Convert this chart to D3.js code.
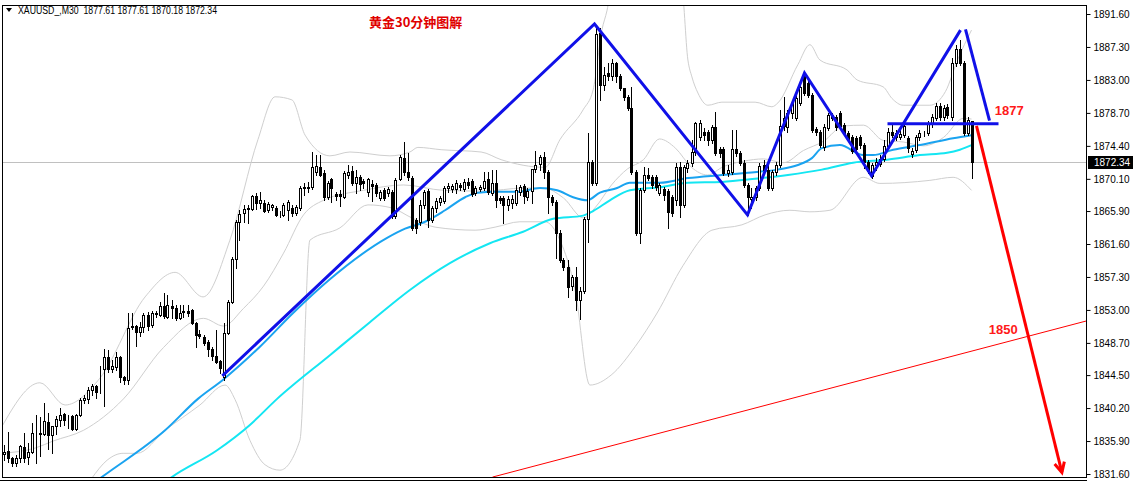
<!DOCTYPE html>
<html><head><meta charset="utf-8">
<script src="https://cdn.jsdelivr.net/npm/d3@7"></script>
<style>body{margin:0;background:#fff;overflow:hidden}svg{display:block}</style>
</head><body><svg id="c" width="1134" height="481"></svg>
<script>
const openP=[1834.2,1834.6,1833.7,1833.1,1833.7,1835.1,1833.8,1834.5,1837.0,1837.0,
1836.8,1838.4,1836.7,1837.8,1838.6,1839.4,1839.0,1839.2,1837.5,1839.3,
1841.3,1841.4,1842.6,1843.1,1842.2,1845.3,1846.9,1845.3,1845.6,1846.9,
1844.3,1843.9,1850.9,1850.9,1850.1,1850.8,1852.4,1851.0,1852.5,1852.4,
1853.5,1852.1,1853.5,1853.3,1852.0,1852.7,1852.8,1853.0,1851.3,1849.9,
1849.5,1848.8,1847.9,1847.0,1846.4,1844.3,1850.0,1854.1,1859.6,1864.5,
1865.7,1866.2,1866.2,1867.9,1867.0,1867.0,1866.0,1866.4,1866.3,1865.5,
1865.4,1866.0,1866.3,1865.7,1866.3,1868.9,1868.9,1869.0,1871.0,1871.6,
1870.9,1867.7,1870.1,1868.1,1868.1,1867.7,1870.6,1871.1,1869.6,1870.3,
1869.8,1868.4,1869.4,1869.3,1867.6,1868.7,1868.3,1868.4,1865.3,1870.1,
1872.8,1871.0,1870.2,1864.7,1864.5,1866.7,1868.5,1864.7,1866.3,1867.1,
1867.2,1868.9,1868.8,1868.8,1869.3,1868.8,1869.7,1869.8,1868.3,1868.8,
1868.9,1870.1,1868.3,1869.6,1867.6,1867.6,1866.7,1867.0,1867.0,1868.4,
1869.2,1867.7,1868.5,1871.4,1872.0,1872.9,1871.0,1867.7,1867.1,1863.0,
1859.5,1858.6,1856.1,1857.3,1854.3,1855.5,1864.9,1872.3,1869.6,1889.1,
1882.3,1883.9,1883.5,1885.2,1883.5,1881.9,1880.8,1879.3,1871.0,1863.0,
1868.6,1870.6,1870.3,1870.3,1868.3,1868.8,1868.5,1867.7,1867.3,1871.6,
1866.7,1871.5,1872.2,1873.6,1875.6,1876.2,1876.2,1875.2,1876.9,1874.0,
1874.0,1870.9,1871.0,1874.0,1873.5,1872.2,1869.3,1867.5,1867.7,1868.9,
1871.9,1871.3,1868.9,1871.0,1871.9,1877.0,1876.9,1878.7,1878.0,1880.0,
1883.6,1882.6,1881.0,1876.6,1876.2,1874.3,1876.7,1878.4,1878.2,1878.7,
1877.1,1876.1,1875.6,1875.4,1875.6,1874.5,1872.3,1870.5,1871.9,1872.0,
1872.7,1874.4,1876.2,1876.1,1875.6,1875.8,1875.4,1873.3,1873.9,1875.6,
1876.1,1876.1,1877.3,1878.0,1879.6,1878.2,1879.5,1878.2,1885.2,1887.0,
1885.2,1876.1,1877.61];
const highP=[1835.4,1837.1,1833.8,1834.1,1835.4,1836.9,1835.6,1838.3,1839.3,1839.0,
1840.9,1839.6,1837.9,1839.2,1840.2,1839.6,1839.3,1839.3,1839.4,1841.5,
1841.9,1843.0,1843.4,1843.2,1845.7,1847.9,1847.8,1846.5,1847.5,1847.0,
1844.4,1852.6,1852.6,1851.0,1851.4,1852.6,1852.7,1852.9,1852.9,1854.0,
1855.2,1855.0,1854.3,1853.7,1853.7,1853.7,1853.7,1853.1,1851.4,1850.4,
1849.7,1849.1,1848.2,1850.4,1846.5,1851.3,1854.3,1859.9,1864.7,1866.0,
1866.7,1866.7,1868.0,1868.3,1868.4,1867.4,1867.1,1866.8,1866.6,1865.9,
1867.0,1867.4,1866.7,1866.7,1869.2,1869.6,1869.7,1873.6,1873.2,1873.2,
1871.3,1869.8,1870.2,1868.4,1868.6,1871.1,1871.9,1871.8,1871.3,1870.6,
1870.1,1870.2,1869.9,1869.6,1868.7,1868.9,1869.0,1868.7,1870.2,1873.2,
1874.9,1873.5,1870.5,1865.0,1867.3,1868.7,1868.8,1866.6,1867.6,1867.9,
1869.2,1869.6,1869.4,1870.0,1869.6,1870.1,1870.2,1870.1,1869.2,1869.3,
1871.0,1871.0,1871.3,1871.3,1867.9,1867.9,1867.9,1868.0,1869.3,1869.3,
1869.4,1868.9,1871.4,1873.7,1873.2,1873.6,1871.3,1868.0,1867.3,1863.4,
1859.8,1859.5,1857.6,1858.6,1856.0,1865.1,1876.1,1872.6,1889.9,1889.8,
1884.7,1885.2,1885.7,1885.3,1883.8,1882.0,1881.0,1882.1,1871.3,1868.9,
1871.6,1871.5,1870.6,1870.6,1869.6,1869.0,1868.8,1868.0,1872.2,1872.3,
1871.9,1872.6,1875.2,1877.5,1877.8,1876.7,1876.5,1877.1,1878.8,1874.3,
1874.3,1871.9,1876.5,1876.5,1873.7,1872.6,1869.6,1868.9,1869.2,1872.2,
1872.6,1871.9,1871.3,1872.3,1879.1,1880.8,1879.1,1880.1,1881.0,1882.6,
1884.0,1883.0,1881.3,1876.9,1876.5,1877.2,1878.7,1878.7,1878.4,1879.0,
1877.4,1876.3,1875.8,1875.7,1875.8,1874.8,1872.6,1872.2,1872.8,1873.2,
1875.2,1876.7,1877.1,1876.5,1876.7,1877.5,1875.7,1874.1,1875.8,1876.5,
1876.3,1877.7,1878.6,1880.0,1880.0,1879.7,1879.9,1885.9,1887.6,1888.2,
1885.5,1878.2,1877.61];
const lowP=[1833.4,1833.2,1832.7,1832.7,1833.2,1833.2,1832.9,1834.4,1833.0,1834.0,
1836.7,1834.8,1834.4,1836.8,1837.8,1838.0,1837.6,1837.4,1837.4,1839.2,
1840.9,1840.9,1841.9,1841.5,1842.1,1840.5,1844.9,1844.9,1845.2,1843.6,
1843.4,1843.4,1850.5,1848.3,1849.6,1850.1,1850.4,1850.8,1852.1,1852.2,
1851.9,1851.9,1851.9,1851.7,1851.8,1852.1,1852.2,1851.2,1848.2,1849.4,
1848.4,1847.0,1846.5,1846.1,1844.8,1843.9,1849.9,1853.9,1858.5,1862.1,
1864.5,1864.3,1866.0,1866.2,1866.3,1865.8,1865.8,1866.0,1865.2,1865.1,
1865.3,1864.7,1865.3,1865.4,1866.0,1868.0,1868.4,1868.8,1870.6,1870.5,
1867.3,1867.5,1867.1,1867.3,1866.6,1867.6,1870.2,1869.3,1868.3,1868.6,
1868.9,1867.9,1867.2,1867.9,1867.3,1867.3,1867.9,1865.0,1865.0,1869.9,
1870.6,1869.9,1863.4,1863.0,1864.1,1866.3,1863.8,1864.5,1865.8,1866.7,
1866.9,1868.4,1868.4,1868.3,1868.6,1868.5,1868.9,1867.9,1868.0,1868.5,
1868.6,1868.1,1868.0,1866.4,1866.9,1864.3,1866.0,1866.3,1866.7,1868.0,
1866.9,1867.3,1866.9,1871.0,1871.3,1870.2,1865.7,1866.7,1859.8,1859.3,
1858.2,1854.7,1855.6,1853.0,1851.8,1855.2,1861.8,1869.3,1869.3,1880.4,
1881.7,1883.0,1883.0,1882.7,1881.7,1880.4,1879.1,1870.7,1862.8,1861.7,
1868.4,1869.9,1868.9,1868.6,1868.0,1867.3,1863.7,1865.3,1866.7,1865.1,
1866.4,1871.0,1871.8,1873.2,1875.2,1875.2,1874.5,1874.8,1873.2,1873.0,
1870.6,1870.5,1870.7,1873.1,1871.9,1869.0,1865.4,1866.3,1867.3,1868.6,
1871.0,1868.6,1868.6,1870.6,1871.7,1876.5,1876.2,1878.0,1877.8,1879.7,
1881.0,1880.8,1876.2,1875.8,1874.3,1873.9,1876.5,1877.8,1876.5,1876.7,
1875.8,1875.0,1873.5,1873.7,1874.1,1871.5,1870.9,1870.2,1871.3,1871.8,
1872.4,1874.1,1875.6,1875.2,1875.3,1875.6,1873.6,1872.9,1873.6,1875.2,
1875.7,1875.8,1876.9,1877.8,1877.8,1877.8,1878.0,1877.8,1884.8,1884.9,
1875.8,1875.8,1870.18];
const closeP=[1834.5,1833.7,1833.1,1833.7,1835.3,1833.7,1834.5,1837.0,1837.0,1836.8,
1838.5,1836.7,1837.8,1838.8,1839.3,1838.6,1839.1,1837.5,1839.3,1841.3,
1841.5,1842.6,1843.1,1842.3,1842.2,1846.9,1845.3,1845.7,1846.9,1844.3,
1843.9,1850.7,1850.8,1850.1,1850.8,1852.4,1850.9,1852.6,1852.6,1853.5,
1852.2,1853.7,1853.3,1852.0,1852.6,1852.8,1852.6,1851.3,1849.7,1849.6,
1848.7,1847.9,1847.0,1846.2,1845.4,1850.0,1854.1,1859.6,1864.5,1865.5,
1866.2,1866.3,1867.9,1867.0,1867.4,1865.9,1866.8,1866.7,1865.4,1865.5,
1866.7,1867.1,1865.7,1866.4,1868.9,1869.0,1869.0,1871.6,1871.8,1870.6,
1867.7,1869.6,1868.9,1867.9,1867.9,1870.9,1871.0,1869.6,1870.3,1869.4,
1869.6,1870.1,1869.2,1868.3,1868.4,1867.6,1868.8,1865.3,1869.9,1872.9,
1871.0,1870.3,1863.7,1863.7,1866.7,1868.4,1864.7,1866.3,1867.2,1867.6,
1868.9,1869.2,1869.2,1869.6,1869.0,1869.7,1869.3,1868.1,1868.9,1869.0,
1869.8,1868.4,1869.6,1867.3,1867.3,1866.7,1867.5,1867.5,1868.6,1869.0,
1867.9,1868.5,1871.4,1871.9,1872.9,1871.0,1867.7,1867.1,1863.0,1859.5,
1858.6,1856.0,1857.3,1854.3,1855.5,1864.9,1872.3,1869.6,1889.0,1882.3,
1883.6,1883.5,1885.2,1883.5,1881.9,1880.8,1879.3,1871.0,1863.0,1868.6,
1870.6,1870.2,1869.3,1869.0,1869.3,1868.0,1865.8,1865.7,1871.6,1866.7,
1871.6,1872.2,1873.6,1877.4,1877.4,1875.8,1875.2,1876.9,1873.5,1873.5,
1870.9,1871.3,1874.0,1873.5,1872.2,1869.3,1867.7,1867.7,1868.9,1871.8,
1871.3,1868.9,1871.0,1871.9,1877.0,1878.0,1878.7,1880.0,1880.7,1882.1,
1881.3,1881.0,1876.5,1876.2,1874.5,1876.9,1878.4,1878.0,1876.9,1877.0,
1876.1,1875.3,1873.7,1874.0,1874.5,1872.3,1871.1,1871.9,1872.3,1872.7,
1874.4,1876.2,1875.8,1875.6,1875.9,1877.0,1874.1,1873.7,1875.6,1876.1,
1876.1,1877.3,1878.2,1879.6,1878.2,1879.3,1878.4,1885.2,1887.0,1885.2,
1876.1,1877.8,1872.34];

// moving averages [bar index, price]
const maFast=[[23.5,1830.8],[25.9,1831.7],[40.4,1837.3],[48.6,1841.4],[54.9,1843.9],[64.1,1848.2],[72.4,1852.6],[81.6,1857.0],[95.9,1862.4],[100.4,1863.6],[105.4,1864.5],[110.4,1866.0],[115.4,1867.7],[118.6,1868.3],[122.9,1868.4],[128.4,1868.4],[134.1,1868.9],[138.4,1868.6],[142.4,1867.7],[145.9,1867.3],[149.1,1868.3],[153.4,1868.9],[156.6,1869.6],[164.1,1869.6],[171.1,1870.2],[179.6,1870.6],[186.1,1870.9],[193.6,1871.3],[198.6,1871.9],[202.1,1872.8],[204.6,1874.1],[209.1,1874.5],[214.9,1873.2],[217.4,1873.2],[222.4,1873.9],[229.1,1874.5],[237.4,1875.4],[242,1875.8]];
const maSlow=[[40.5,1830.6],[42.1,1831.2],[53.4,1834.7],[61.6,1838.0],[68.4,1841.4],[81.6,1847.1],[91.6,1851.4],[101.6,1855.6],[111.6,1859.1],[121.6,1861.7],[129.9,1863.2],[137.4,1864.9],[144.9,1865.3],[147.4,1865.9],[151.6,1867.3],[156.6,1868.6],[164.1,1869.0],[171.1,1869.6],[179.6,1869.7],[187.9,1870.1],[196.1,1870.6],[204.6,1871.3],[212.4,1872.2],[220.9,1872.6],[229.1,1873.2],[235.9,1873.5],[239.1,1873.9],[242,1874.5]];
// bollinger bands [bar index, price]
const bbUpper=[[-0.5,1837.7],[9.1,1843.5],[15.4,1840.6],[24.1,1844.1],[35.4,1854.7],[42.9,1857.9],[49.9,1854.7],[56.6,1862.1],[63.6,1875.2],[67.9,1880.8],[72.1,1880.4],[75.4,1875.8],[81.6,1873.1],[86.6,1873.6],[96.6,1873.1],[101.6,1873.6],[103.6,1874.2],[109.4,1873.9],[119.4,1873.6],[124.4,1872.6],[135.4,1871.6],[139.1,1875.2],[144.9,1879.1],[147.4,1881.7],[149.6,1889.5],[150.9,1892.1],[152,1895],[169.5,1895],[171.1,1885.6],[172.1,1883.4],[173.6,1881.3],[176.1,1879.7],[179.6,1880.1],[187.9,1880.1],[192.1,1879.5],[193.6,1880.0],[198.6,1885.0],[201.6,1887.6],[204.1,1885.6],[210.9,1884.3],[213.4,1883.0],[219.9,1882.1],[222.1,1880.6],[224.9,1879.7],[231.6,1879.7],[235.5,1881.5],[238.5,1885.6],[242,1889.5]];
const bbMiddle=[[-0.5,1834.3],[8,1835.0],[12.4,1835.9],[20,1837.3],[30,1841.4],[40,1848.1],[50,1851.9],[55,1850.9],[60,1853.2],[65,1856.1],[70,1860.4],[75,1865.4],[80,1867.3],[90,1868.6],[100,1869.3],[110,1868.6],[120,1868.5],[130,1868.9],[135,1868.9],[140,1867.6],[145,1865.0],[148,1866.4],[152,1869.3],[156,1871.4],[160,1872.6],[164,1875.3],[168,1874.1],[172,1871.6],[176,1870.6],[180,1871.7],[185,1872.4],[190,1872.7],[195,1872.2],[200,1873.8],[205,1875.0],[210,1877.0],[215,1877.1],[220,1875.1],[225,1874.9],[230,1874.4],[235,1875.5],[240,1878.0],[242,1877.9]];
const bbLower=[[22,1831.0],[25.9,1833.4],[29.9,1834.3],[33.4,1834.3],[40.4,1837.3],[49.1,1840.6],[55.4,1843.2],[57.9,1841.3],[61.6,1836.0],[65.4,1832.8],[69.1,1832.1],[74.1,1836.0],[76.6,1862.1],[84.1,1863.7],[91.1,1866.7],[97.1,1866.3],[102.1,1865.0],[107.9,1863.8],[117.9,1863.4],[122.9,1863.8],[129.1,1864.5],[135.4,1864.5],[139.1,1862.1],[142.9,1855.6],[146.6,1843.2],[151.9,1844.5],[157.9,1848.2],[163.4,1852.6],[169.9,1858.8],[177.1,1863.4],[184.6,1864.1],[190.4,1865.4],[196.6,1866.0],[201.6,1865.8],[206.6,1866.0],[214.9,1870.3],[219.1,1869.5],[231.6,1869.9],[237.4,1870.3],[242,1868.6]];

const priceTicks=[1891.60,1887.30,1883.00,1878.70,1874.40,1870.10,1865.90,1861.60,1857.30,1853.00,1848.70,1844.50,1840.20,1835.90,1831.60];
const lastPrice=1872.34;
const headerText="XAUUSD_,M30  1877.61 1877.61 1870.18 1872.34";
const titleText="黄金30分钟图解";
// annotations [bar index, price]
const zigzag=[[54.7,1844.4],[147.75,1890.3],[186,1865.4],[200.25,1883.9],[217,1870.5],[239.25,1889.5]];
const zigzagTail=[[240.5,1889.6],[246.5,1877.7]];
const neckline=[[221,1877.3],[248.75,1877.3]];
const targetArrow=[[243.25,1877.0],[264.6,1831.8]];
const supportLine=[[122.25,1831.2],[271,1851.6]];
const labels=[{t:"1877",i:247.8,p:1878.4},{t:"1850",i:246.3,p:1849.8}];

const svg=d3.select("#c");
const W=1134,H=481;
const L=2,R=1087,T=5,B=478;
const x=d3.scaleLinear().domain([0,242]).range([3.5,971.5]);
const y=d3.scaleLinear().domain([1831.6,1891.6]).range([474,14]);

svg.append("rect").attr("width",W).attr("height",H).attr("fill","#fff");
svg.append("defs").append("clipPath").attr("id","clip").append("rect")
  .attr("x",L).attr("y",T).attr("width",R-L).attr("height",B-T);
const g=svg.append("g").attr("clip-path","url(#clip)");

const line=d3.line().x(d=>x(d[0])).y(d=>y(d[1]));
const smooth=d3.line().x(d=>x(d[0])).y(d=>y(d[1])).curve(d3.curveMonotoneX);

// current price line
g.append("line").attr("x1",L).attr("x2",R).attr("y1",Math.round(y(lastPrice))+0.5).attr("y2",Math.round(y(lastPrice))+0.5)
 .attr("stroke","#c0c0c0").attr("stroke-width",1);

// bands
[bbUpper,bbMiddle,bbLower].forEach(d=>{
  g.append("path").attr("d",smooth(d)).attr("fill","none").attr("stroke","#cfcfcf").attr("stroke-width",1);
});
// MAs
g.append("path").attr("d",smooth(maSlow)).attr("fill","none").attr("stroke","#14e6f2").attr("stroke-width",2);
g.append("path").attr("d",smooth(maFast)).attr("fill","none").attr("stroke","#1aa3f0").attr("stroke-width",2);

// candles
const idx=d3.range(openP.length);
const cg=g.append("g").attr("shape-rendering","crispEdges");
idx.forEach(i=>{
  const cx=Math.round(x(i))+0.5;
  const o=openP[i],c=closeP[i];
  cg.append("line").attr("x1",cx).attr("x2",cx).attr("y1",Math.round(y(highP[i]))).attr("y2",Math.round(y(lowP[i]))+1)
    .attr("stroke","#000");
  const top=Math.round(y(Math.max(o,c)))+0.5, bot=Math.round(y(Math.min(o,c)))+0.5;
  cg.append("rect").attr("x",cx-1).attr("y",top).attr("width",2).attr("height",Math.max(0,bot-top))
    .attr("fill",c>=o?"#fff":"#000").attr("stroke","#000").attr("stroke-width",1);
});

// blue zigzag
g.append("path").attr("d",line(zigzag)).attr("fill","none").attr("stroke","#1010e8").attr("stroke-width",3).attr("stroke-linejoin","miter");
g.append("path").attr("d",line(zigzagTail)).attr("fill","none").attr("stroke","#1010e8").attr("stroke-width",3);
g.append("path").attr("d",line(neckline)).attr("fill","none").attr("stroke","#1010e8").attr("stroke-width",3);
// red support line
g.append("path").attr("d",line(supportLine)).attr("fill","none").attr("stroke","#ff0000").attr("stroke-width",1);
// red arrow
const a0=[x(targetArrow[0][0]),y(targetArrow[0][1])],a1=[x(targetArrow[1][0]),y(targetArrow[1][1])];
g.append("line").attr("x1",a0[0]).attr("y1",a0[1]).attr("x2",a1[0]).attr("y2",a1[1]).attr("stroke","#ff0000").attr("stroke-width",3);
const ang=Math.atan2(a1[1]-a0[1],a1[0]-a0[0]);
const ah=10,aw=5;
const p1=[a1[0]-ah*Math.cos(ang)+aw*Math.sin(ang),a1[1]-ah*Math.sin(ang)-aw*Math.cos(ang)];
const p2=[a1[0]-ah*Math.cos(ang)-aw*Math.sin(ang),a1[1]-ah*Math.sin(ang)+aw*Math.cos(ang)];
g.append("path").attr("d",`M${p1}L${a1}L${p2}`).attr("fill","none").attr("stroke","#ff0000").attr("stroke-width",3);

// labels
labels.forEach(l=>{
  svg.append("text").attr("x",x(l.i)).attr("y",y(l.p)).text(l.t)
    .attr("font-family","Liberation Sans, Arial, sans-serif").attr("font-weight","bold").attr("font-size",13).attr("fill","#ff1a1a");
});
svg.append("text").attr("x",369).attr("y",27).text(titleText)
  .attr("font-family","Noto Sans CJK SC, sans-serif").attr("font-weight","bold").attr("font-size",13).attr("fill","#e00000");

// header
svg.append("path").attr("d","M6,8L12,8L9,12Z").attr("fill","#000");
svg.append("text").attr("x",18).attr("y",14).text(headerText).attr("xml:space","preserve").style("white-space","pre")
  .attr("textLength",199).attr("lengthAdjust","spacingAndGlyphs")
  .attr("font-family","Liberation Sans, Arial, sans-serif").attr("font-size",10).attr("fill","#000");

// frame
svg.append("rect").attr("x",L+0.5).attr("y",T+0.5).attr("width",R-L-1).attr("height",B-T-1).attr("fill","none").attr("stroke","#000").attr("shape-rendering","crispEdges");
svg.append("line").attr("x1",0).attr("x2",R).attr("y1",480.5).attr("y2",480.5).attr("stroke","#000");

// axis
const ax=d3.axisRight(y).tickValues(priceTicks).tickFormat(d3.format(".2f")).tickSize(4).tickSizeOuter(0);
const axg=svg.append("g").attr("transform",`translate(${R-0.5},0)`).call(ax);
axg.select(".domain").remove();
axg.selectAll("text").attr("font-family","Liberation Sans, Arial, sans-serif").attr("font-size",10).attr("fill","#000").attr("x",7);
axg.selectAll("line").attr("stroke","#000");

// last price tag
const ly=Math.round(y(lastPrice));
svg.append("rect").attr("x",R+1).attr("y",ly-6).attr("width",W-R-2).attr("height",13).attr("fill","#000");
svg.append("text").attr("x",R+7).attr("y",ly+4).text(lastPrice.toFixed(2))
  .attr("font-family","Liberation Sans, Arial, sans-serif").attr("font-size",10).attr("fill","#fff");
</script></body></html>
